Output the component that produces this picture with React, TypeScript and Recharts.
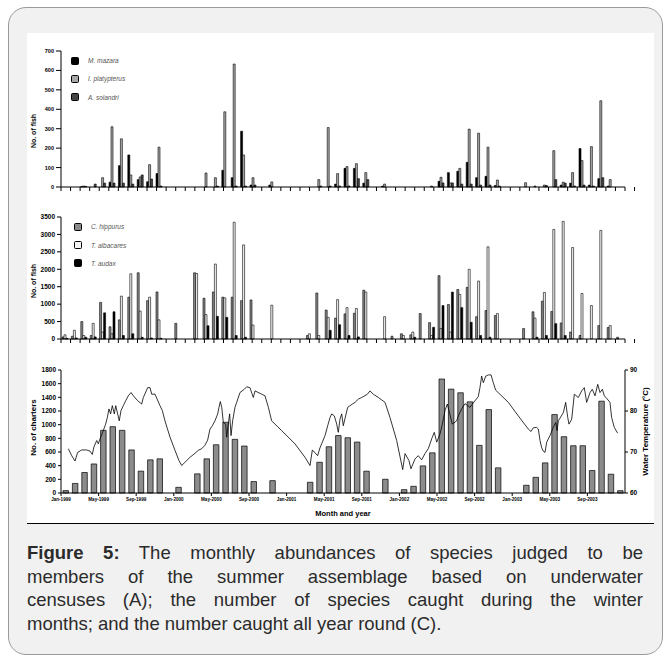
import React from 'react';
import { ComposedChart, Bar, Line, XAxis, YAxis, Legend } from 'recharts';

// months Jan-1999 .. Dec-2003
const monthNames = ['Jan', 'Feb', 'Mar', 'Apr', 'May', 'Jun', 'Jul', 'Aug', 'Sep', 'Oct', 'Nov', 'Dec'];
const years = [1999, 2000, 2001, 2002, 2003];
const months = years.flatMap((y) => monthNames.map((m) => `${m}-${y}`));

const xTickMonths = [0, 4, 8, 12, 16, 20, 24, 28, 32, 36, 40, 44, 48, 52, 56];
const xTickLabels = [
  'Jan-1999', 'May-1999', 'Sep-1999', 'Jan-2000', 'May-2000', 'Sep-2000', 'Jan-2001', 'May-2001',
  'Sep-2001', 'Jan-2002', 'May-2002', 'Sep-2002', 'Jan-2003', 'May-2003', 'Sep-2003',
];
const monthBoundaries = Array.from({ length: 61 }, (_, i) => i);

// panel A - billfish counts
const namesA = ['M. mazara', 'I. platypterus', 'A. solandri'];
const mazara = [0,0,3,0,0,25,110,165,38,27, 69,0,0,0,0,0,0,86,48,287, 10,0,10,0,0,0,0,0,0,15, 96,96,20,0,5,0,0,0,0,0, 29,74,81,127,48,55,8,0,0,0, 0,0,0,10,20,198,10,43,5,0];
const platypterus = [0,0,5,0,48,310,248,62,52,115, 205,0,0,0,0,72,48,387,633,165, 48,0,26,0,0,0,0,38,306,69, 105,120,74,0,15,0,0,0,0,5, 50,21,96,298,277,205,36,0,0,22, 5,10,187,25,74,136,208,444,38,0];
const solandri = [0,0,3,15,20,20,20,15,62,41, 5,0,0,0,0,0,5,0,5,5, 10,0,0,0,0,0,0,5,5,5, 5,43,38,0,0,0,0,0,0,0, 21,21,15,15,10,10,5,0,0,0, 0,8,38,20,5,10,5,48,0,0];

// panel B - dolphinfish / tunas
const namesB = ['C. hippurus', 'T. albacares', 'T. audax'];
const hippurus = [60,80,500,100,1050,350,550,1200,1900,1100, 1350,0,450,0,1900,1170,1350,1200,1200,1100, 1120,0,0,0,0,0,100,1320,830,600, 720,740,1400,0,0,80,150,120,730,470, 1817,990,1420,1480,640,817,673,0,0,300, 780,1086,790,460,200,100,0,385,330,50];
const albacares = [120,250,100,450,200,150,1230,1870,800,1200, 550,0,0,0,1880,700,2150,1180,3350,2700, 400,0,970,0,0,0,150,100,620,1130, 900,875,1346,0,640,0,100,200,0,100, 300,200,1280,2000,1663,2644,730,0,0,0, 600,1336,3144,3375,2625,1307,960,3115,385,0];
const audax = [20,30,50,60,750,780,100,150,50,30, 20,0,0,0,0,380,650,620,100,50, 0,0,0,0,0,0,0,0,250,410, 100,60,0,0,0,0,0,50,0,336, 960,1346,900,480,100,50,0,0,0,0, 50,100,440,100,0,0,0,0,0,0];

// panel C - charters per month and water temperature [month, temp]
const charters = [35,140,300,425,917,970,917,630,320,485, 500,0,83,0,280,500,706,1035,785,687, 167,0,181,0,0,0,157,450,677,841, 809,745,319,0,201,0,49,98,397,588, 1668,1520,1467,1334,697,1221,368,0,0,113, 230,441,1148,824,692,692,329,1344,275,34];
const temperature: [number, number][] = [
  [0.78,70.8],[1.14,69.1],[1.49,67.8],[1.77,69.9],[2.2,70.5],[2.73,70.5],[3.09,70.2],[3.33,69.4],[3.51,71.3],[3.8,72.8],
  [3.97,72.0],[4.15,73.2],[4.43,74.8],[4.75,76.8],[4.93,78.4],[5.1,80.5],[5.28,79.3],[5.46,81.3],[5.67,79.3],[5.82,81.3],
  [6.2,77.6],[6.38,80.1],[6.63,81.3],[6.88,82.5],[7.16,83.7],[7.45,84.5],[7.7,83.7],[8.16,82.5],[8.58,81.7],[8.76,83.3],
  [9.22,85.7],[9.47,85.7],[9.65,84.1],[10.0,84.1],[10.53,81.3],[10.78,80.1],[11.06,77.6],[11.6,73.6],[12.13,70.4],[12.55,67.9],
  [12.84,66.7],[13.19,67.5],[13.72,68.7],[14.26,69.7],[14.6,70.4],[14.96,70.8],[15.3,71.6],[15.6,72.9],[15.85,75.6],[16.1,76.4],
  [16.38,77.6],[16.67,79.3],[16.81,80.9],[16.95,82.3],[17.1,80.9],[17.27,77.2],[17.52,76.8],[17.62,73.6],[17.8,76.8],[17.94,79.3],
  [18.09,74.0],[18.26,77.6],[18.51,80.9],[18.69,82.1],[19.04,84.5],[19.5,85.3],[19.75,85.9],[20.1,85.7],[20.46,83.3],[20.64,84.9],
  [21.35,84.1],[21.7,83.7],[22.06,80.9],[22.41,77.6],[23.48,75.2],[24.89,72.0],[25.96,68.7],[26.49,66.7],[26.74,70.5],[27.3,69.1],
  [27.55,71.0],[27.73,72.0],[28.09,74.0],[28.37,76.4],[28.62,78.4],[28.8,79.3],[29.08,78.8],[29.33,76.8],[29.5,74.8],[29.68,78.0],
  [29.86,79.3],[30.03,76.4],[30.5,80.9],[31.0,81.7],[31.28,82.1],[31.63,82.9],[31.99,83.3],[32.6,84.1],[32.87,84.9],[33.22,84.1],
  [33.76,83.3],[34.47,82.1],[35.0,78.4],[35.71,72.8],[36.35,65.7],[36.6,69.6],[37.02,67.9],[37.23,65.9],[37.66,68.3],[38.0,69.1],
  [38.37,68.1],[38.72,69.6],[39.07,70.8],[39.5,73.6],[39.71,74.8],[39.97,72.4],[40.32,74.4],[40.57,76.8],[40.85,80.1],[41.1,81.7],
  [41.63,76.8],[42.09,77.6],[42.27,78.8],[42.62,80.5],[42.98,81.8],[43.5,80.9],[44.04,82.5],[44.39,83.5],[44.57,85.7],[44.75,88.5],
  [44.93,86.9],[45.18,88.5],[45.46,88.8],[45.75,88.8],[45.99,86.9],[46.24,85.1],[47.59,82.1],[48.65,78.8],[49.71,75.6],[50.0,75.0],
  [50.24,75.9],[50.6,76.0],[50.78,75.6],[50.96,72.8],[51.14,71.0],[51.31,70.2],[51.49,69.9],[51.67,72.4],[52.02,74.0],[52.37,76.0],
  [52.63,77.2],[52.77,75.2],[52.91,77.6],[53.44,79.6],[53.69,82.1],[53.91,78.4],[54.04,76.8],[54.33,78.0],[54.61,84.1],[55.03,83.3],
  [55.39,84.9],[55.67,85.7],[55.92,82.1],[56.28,84.5],[56.52,85.3],[56.81,83.7],[57.1,86.5],[57.34,84.5],[57.59,85.3],[57.8,83.7],
  [58.05,83.1],[58.4,82.1],[58.58,78.4],[58.86,76.0],[59.22,74.6],
];

const FONT = '"Liberation Sans", Arial, Helvetica, sans-serif';

const tableA = months.map((month, i) => ({ month, mazara: mazara[i], platypterus: platypterus[i], solandri: solandri[i] }));
const tableB = months.map((month, i) => ({ month, hippurus: hippurus[i], albacares: albacares[i], audax: audax[i] }));
const tableC = months.map((month, i) => ({ month, charters: charters[i] }));
const tempData = temperature.map(([t, temp]) => ({ t, temp }));

// rotated axis title, centred on the axis box
const axisTitle = (text: string, size: number, shift = 0, dy = 0) => (props: any) => {
  const vb = props.viewBox;
  const cx = vb.x + vb.width / 2 + shift;
  const cy = vb.y + vb.height / 2 + dy;
  return (
    <text x={cx} y={cy} transform={`rotate(-90 ${cx} ${cy})`} textAnchor="middle" dominantBaseline="central"
      fontSize={size} fontWeight="bold" fontFamily={FONT} fill="#000">
      {text}
    </text>
  );
};

// legend keeps the series order given in `order`
const legendContent = (order: string[]) => (props: any) => {
  const items = [...(props.payload || [])].sort((a: any, b: any) => order.indexOf(a.value) - order.indexOf(b.value));
  return (
    <div>
      {items.map((p: any) => (
        <div key={p.value} style={{ display: 'flex', alignItems: 'center', height: 18.3 }}>
          <span style={{ width: 8, height: 8, background: p.color, border: '1px solid #000', borderRadius: 1.5, boxSizing: 'border-box', display: 'inline-block' }} />
          <span style={{ marginLeft: 9, fontSize: 6.5, fontStyle: 'italic', color: '#555', fontFamily: FONT }}>{p.value}</span>
        </div>
      ))}
    </div>
  );
};

const tickStyle = (size: number) => ({ fontSize: size, fontWeight: 'bold' as const, fill: '#000', fontFamily: FONT });

export default function App() {
  return (
    <div style={{ position: 'absolute', left: 0, top: 0, width: 670, height: 661, background: '#fff', fontFamily: FONT, overflow: 'hidden' }}>
      <div style={{ position: 'absolute', left: 8, top: 7, width: 655, height: 648, boxSizing: 'border-box', border: '1px solid #9a9a9a', borderRadius: 18, background: '#f1f1f1' }} />
      <div style={{ position: 'absolute', left: 27, top: 33, width: 627, height: 490, background: '#fff', borderBottom: '1px solid #000' }} />

      {/* A */}
      <div style={{ position: 'absolute', left: 0, top: 40 }}>
        <ComposedChart width={670} height={160} data={tableA} margin={{ top: 11, right: 45, bottom: 5, left: 21 }} barCategoryGap={1} barGap={0}>
          <XAxis xAxisId="g" type="number" domain={[0, 60]} allowDataOverflow ticks={monthBoundaries} interval={0}
            height={8} tickSize={4} tickFormatter={() => ''} stroke="#000" />
          <XAxis xAxisId="m" dataKey="month" hide height={0} />
          <YAxis width={40} domain={[0, 700]} ticks={[0, 100, 200, 300, 400, 500, 600, 700]} interval={0}
            tickSize={5} tickMargin={2} stroke="#000" tick={tickStyle(5.5)} label={{ content: axisTitle('No. of fish', 7, -8, 12) }} />
          <Legend layout="vertical" align="center" verticalAlign="middle" content={legendContent(namesA)}
            wrapperStyle={{ left: 71, top: 11.5, width: 120 }} />
          <Bar xAxisId="m" dataKey="mazara" name={namesA[0]} fill="#000" stroke="#000" strokeWidth={0.6} isAnimationActive={false} />
          <Bar xAxisId="m" dataKey="platypterus" name={namesA[1]} fill="#a8a8a8" stroke="#000" strokeWidth={0.6} isAnimationActive={false} />
          <Bar xAxisId="m" dataKey="solandri" name={namesA[2]} fill="#454545" stroke="#000" strokeWidth={0.6} isAnimationActive={false} />
        </ComposedChart>
      </div>

      {/* B */}
      <div style={{ position: 'absolute', left: 0, top: 205 }}>
        <ComposedChart width={670} height={146} data={tableB} margin={{ top: 12, right: 45, bottom: 4, left: 21 }} barCategoryGap={1} barGap={0}>
          <XAxis xAxisId="g" type="number" domain={[0, 60]} allowDataOverflow ticks={monthBoundaries} interval={0}
            height={8} tickSize={4} tickFormatter={() => ''} stroke="#000" />
          <XAxis xAxisId="m" dataKey="month" hide height={0} />
          <YAxis width={40} domain={[0, 3500]} ticks={[0, 500, 1000, 1500, 2000, 2500, 3000, 3500]} interval={0}
            tickSize={4} tickMargin={2} stroke="#000" tick={tickStyle(6.5)} label={{ content: axisTitle('No. of fish', 7, -8, 3) }} />
          <Legend layout="vertical" align="center" verticalAlign="middle" content={legendContent(namesB)}
            wrapperStyle={{ left: 74, top: 12.7, width: 120 }} />
          <Bar xAxisId="m" dataKey="hippurus" name={namesB[0]} fill="#8a8a8a" stroke="#000" strokeWidth={0.6} isAnimationActive={false} />
          <Bar xAxisId="m" dataKey="albacares" name={namesB[1]} fill="#f2f2f2" stroke="#000" strokeWidth={0.6} isAnimationActive={false} />
          <Bar xAxisId="m" dataKey="audax" name={namesB[2]} fill="#000" stroke="#000" strokeWidth={0.6} isAnimationActive={false} />
        </ComposedChart>
      </div>

      {/* C */}
      <div style={{ position: 'absolute', left: 0, top: 356 }}>
        <ComposedChart width={670} height={163} data={tableC} margin={{ top: 14, right: 15, bottom: 2, left: 21 }}>
          <XAxis xAxisId="t" type="number" dataKey="t" domain={[0, 60]} allowDataOverflow ticks={xTickMonths} interval={0}
            height={24} tickSize={3} tickMargin={2} stroke="#000" tick={tickStyle(4.6)}
            tickFormatter={(v: number) => xTickLabels[xTickMonths.indexOf(v)] ?? ''}
            label={{ value: 'Month and year', position: 'insideBottom', offset: 1, fontSize: 7.5, fontWeight: 'bold', fill: '#000', fontFamily: FONT }} />
          <XAxis xAxisId="m" dataKey="month" hide height={0} />
          <YAxis yAxisId="left" width={40} domain={[0, 1800]} ticks={[0, 200, 400, 600, 800, 1000, 1200, 1400, 1600, 1800]} interval={0}
            tickSize={3} tickMargin={2} stroke="#000" tick={tickStyle(6.5)} label={{ content: axisTitle('No. of charters', 8, -8, -4) }} />
          <YAxis yAxisId="right" orientation="right" width={30} domain={[60, 90]} ticks={[60, 70, 80, 90]} interval={0}
            tickSize={3} tickMargin={2} stroke="#000" tick={tickStyle(6.5)} label={{ content: axisTitle('Water Temperature (°C)', 8, 5, 0) }} />
          <Bar xAxisId="m" yAxisId="left" dataKey="charters" name="Charters" fill="#8c8c8c" stroke="#000" strokeWidth={0.7} barSize={5.5} isAnimationActive={false} />
          <Line xAxisId="t" yAxisId="right" data={tempData} dataKey="temp" name="Water temperature" type="linear"
            stroke="#000" strokeWidth={0.8} dot={false} activeDot={false} isAnimationActive={false} />
        </ComposedChart>
      </div>

      {/* caption */}
      <div style={{ position: 'absolute', left: 27, top: 541, width: 616, fontSize: 18.5, lineHeight: '23.5px', color: '#2b2b2b' }}>
        <div style={{ textAlign: 'justify', textAlignLast: 'justify', whiteSpace: 'nowrap' as const }}>
          <b>Figure 5:</b> The monthly abundances of species judged to be
        </div>
        <div style={{ textAlign: 'justify', textAlignLast: 'justify' }}>members of the summer assemblage based on underwater</div>
        <div style={{ textAlign: 'justify', textAlignLast: 'justify' }}>censuses (A); the number of species caught during the winter</div>
        <div>months; and the number caught all year round (C).</div>
      </div>
    </div>
  );
}
